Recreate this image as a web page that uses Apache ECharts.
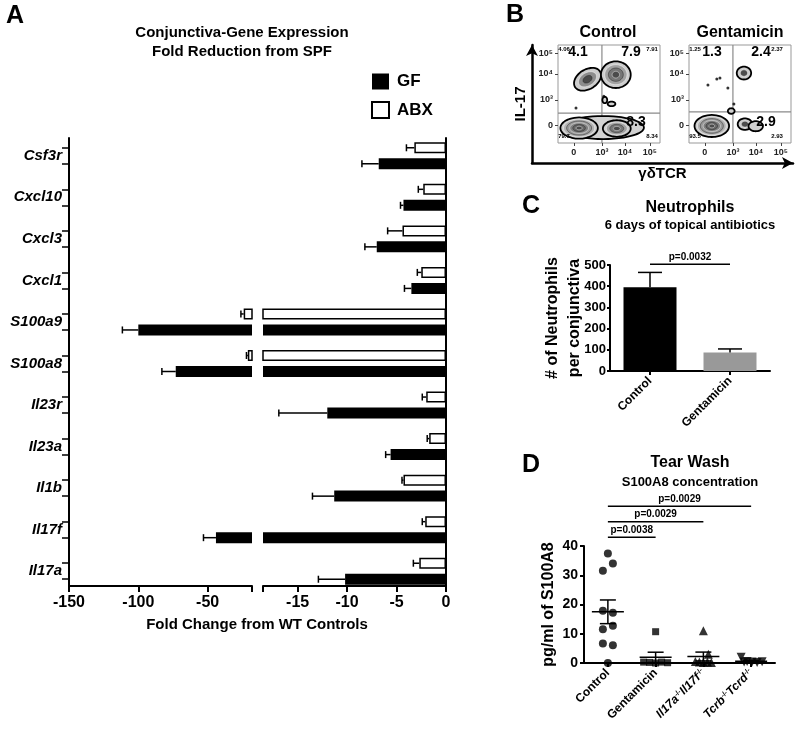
<!DOCTYPE html>
<html><head><meta charset="utf-8">
<script src="https://cdn.jsdelivr.net/npm/echarts@6/dist/echarts.min.js"></script>
<style>html,body{margin:0;padding:0;background:#fff}#c{width:800px;height:733px}</style>
</head><body><div id="c"></div>
<script>
// ---------- Panel A: conjunctiva gene expression (fold change) ----------
const genes = ['Csf3r','Cxcl10','Cxcl3','Cxcl1','S100a9','S100a8','Il23r','Il23a','Il1b','Il17f','Il17a'];
const gfFold  = [-6.8,-4.3,-7.0,-3.5,-100,-73,-12.0,-5.6,-11.3,-44,-10.2];
const gfSem   = [1.7,0.3,1.2,0.7,11.5,10,4.9,0.5,2.2,9,2.7];
const abxFold = [-3.2,-2.3,-4.4,-2.5,-24,-21,-2.0,-1.7,-4.3,-2.1,-2.7];
const abxSem  = [0.8,0.5,1.5,0.4,2,1,0.4,0.2,0.15,0.3,0.6];
const foldLabelsLeft  = [-150,-100,-50];
const foldLabelsRight = [-15,-10,-5,0];
const breakLeftEnd = -18, breakRightStart = -18.5;

// ---------- Panel B: flow cytometry (display units on biexponential scale) ----------
const flowXTicks = [1.83, 3, 3.96, 5.0];
const flowYTicks = [1.91, 3, 4.13, 5.04];
const flowTickLabels = ['0','10³','10⁴','10⁵'];
const gateControl = [[3.0, 2.43]];
const gateGent = [[3.0, 2.48]];
// populations: [cx, cy, rx, ry, rotationDeg, contourLevels]
const controlPops = [
  [3.05,1.80,1.70,0.50,0,1],
  [2.05,1.78,0.78,0.46,0,6],
  [3.62,1.76,0.58,0.36,0,4],
  [2.40,3.90,0.62,0.42,35,3],
  [3.58,4.10,0.62,0.58,0,4],
  [3.12,3.00,0.10,0.14,0,1],
  [3.40,2.83,0.16,0.10,0,1]
];
const controlEvents = [[1.92,2.65],[3.08,3.16]];
const gentPops = [
  [2.12,1.87,0.72,0.48,0,6],
  [3.50,1.95,0.30,0.25,0,2],
  [3.95,1.86,0.30,0.22,0,1],
  [3.46,4.17,0.30,0.28,0,2],
  [2.93,2.52,0.14,0.12,0,1]
];
const gentEvents = [[1.96,3.65],[2.33,3.91],[2.46,3.96],[2.79,3.52],[3.04,2.83]];
const controlPctBig = ['4.1','7.9','8.3'];
const controlPctSmall = ['4.06','7.91','79.7','8.34'];
const gentPctBig = ['1.3','2.4','2.9'];
const gentPctSmall = ['1.25','2.37','93.5','2.93'];

// ---------- Panel C: neutrophils ----------
const neutGroups = ['Control','Gentamicin'];
const neutMean = [395, 87];
const neutSem = [70, 17];
const neutP = ['p=0.0032'];

// ---------- Panel D: tear wash S100A8 ----------
const tearGroups = ['Control','Gentamicin','Il17a-/-Il17f-/-','Tcrb-/-Tcrd-/-'];
const tearControl = [37.4,34.0,31.5,17.9,17.2,12.7,11.5,6.7,6.1,0];
const tearGent = [10.7,0.3,0.2,0,0.3,0.1];
const tearIl17 = [11.0,3.0,0.5,0.3,0.2,0.3,0.2];
const tearTcr = [2.0,0.5,0.3,0.2,0.4,0.3];
const tearP = ['p=0.0038','p=0.0029','p=0.0029'];
const tearPTarget = [1,2,3];

// jitter (pixel offsets, style only)
const jitControl = [0,5,-5,-5,5,5,-5,-5,5,0];
const jitGent = [0,-12,-6,0,6,12];
const jitIl17 = [0,5,-8,-4,0,4,8];
const jitTcr = [-10,-4,1,6,11,-7];

const FF = '"Liberation Sans", Arial, Helvetica, sans-serif';
const chart = echarts.init(document.getElementById('c'));

// layout constants
const A_TOP = 135, A_H = 457, A_AX_TOP = 138, A_AX_H = 448;
const band = A_H / genes.length;
const barOff = 8;
const yMinAx = (A_AX_TOP - A_TOP) / band - 0.5;
const yMaxAx = yMinAx + A_AX_H / band;
const yTickVals = [];
genes.forEach((g, i) => { yTickVals.push(i - barOff / band, i + barOff / band); });

const errA = [];
genes.forEach((g, i) => { errA.push([i, abxFold[i], abxSem[i], -1]); errA.push([i, gfFold[i], gfSem[i], 1]); });

function hErr(params, api) {
  const c = api.value(0), m = api.value(1), s = api.value(2), side = api.value(3);
  const p0 = api.coord([m, c]), p1 = api.coord([m - s, c]);
  const y = p0[1] + side * barOff;
  const st = {stroke:'#000', lineWidth:1.5};
  return {type:'group', children:[
    {type:'line', shape:{x1:p0[0], y1:y, x2:p1[0], y2:y}, style:st},
    {type:'line', shape:{x1:p1[0], y1:y-3.5, x2:p1[0], y2:y+3.5}, style:st}
  ]};
}
function popRender(params, api) {
  const cx = api.value(0), cy = api.value(1), rx = api.value(2), ry = api.value(3);
  const rot = api.value(4) * Math.PI / 180, lv = api.value(5);
  const children = [];
  for (let k = 0; k < lv; k++) {
    const s = 1 - k / lv;
    const pts = [];
    for (let t = 0; t < 48; t++) {
      const a = t / 48 * Math.PI * 2;
      const ex = rx * s * Math.cos(a), ey = ry * s * Math.sin(a);
      pts.push(api.coord([cx + ex * Math.cos(rot) - ey * Math.sin(rot), cy + ex * Math.sin(rot) + ey * Math.cos(rot)]));
    }
    const g = lv === 1 ? 210 : Math.round(205 - 130 * (k / (lv - 1)));
    children.push({type:'polygon', shape:{points:pts, smooth:0.3},
      style:{fill:'rgb(' + g + ',' + g + ',' + g + ')',
             stroke: k === 0 ? '#000' : (k % 2 ? 'rgba(255,255,255,0.6)' : 'rgba(30,30,30,0.6)'),
             lineWidth: k === 0 ? 1.8 : 0.8}});
  }
  return {type:'group', children};
}
function gateRender(params, api) {
  const p = api.coord([api.value(0), api.value(1)]);
  const cs = params.coordSys;
  const st = {stroke:'#8a8a8a', lineWidth:1.2};
  return {type:'group', children:[
    {type:'line', shape:{x1:p[0], y1:cs.y, x2:p[0], y2:cs.y + cs.height}, style:st},
    {type:'line', shape:{x1:cs.x, y1:p[1], x2:cs.x + cs.width, y2:p[1]}, style:st}
  ]};
}
function vErr(params, api) {
  const c = api.value(0), m = api.value(1), s = api.value(2);
  const p0 = api.coord([c, m]), p1 = api.coord([c, m + s]);
  const st = {stroke:'#000', lineWidth:1.5};
  return {type:'group', children:[
    {type:'line', shape:{x1:p0[0], y1:p0[1], x2:p1[0], y2:p1[1]}, style:st},
    {type:'line', shape:{x1:p1[0]-12, y1:p1[1], x2:p1[0]+12, y2:p1[1]}, style:st}
  ]};
}
function makeBracket(labels) {
  return function(params, api) {
    const a = api.coord([api.value(0), api.value(2)]), b = api.coord([api.value(1), api.value(2)]);
    return {type:'group', children:[
      {type:'line', shape:{x1:a[0], y1:a[1], x2:b[0], y2:b[1]}, style:{stroke:'#000', lineWidth:1.5}},
      {type:'text', x:(a[0]+b[0])/2, y:a[1]-2, style:{text:labels[params.dataIndex], font:'bold 10px ' + FF, fill:'#000', align:'center', verticalAlign:'bottom', textAlign:'center', textVerticalAlign:'bottom'}}
    ]};
  };
}
function mean(a) { return a.reduce((s, v) => s + v, 0) / a.length; }
function sem(a) { const m = mean(a); return Math.sqrt(a.reduce((s, v) => s + (v - m) * (v - m), 0) / (a.length - 1)) / Math.sqrt(a.length); }
function meanSem(params, api) {
  const c = api.value(0), m = api.value(1), s = api.value(2);
  const pm = api.coord([c, m]), pu = api.coord([c, m + s]), pl = api.coord([c, m - s]);
  const st = {stroke:'#000', lineWidth:1.5};
  return {type:'group', children:[
    {type:'line', shape:{x1:pm[0]-16, y1:pm[1], x2:pm[0]+16, y2:pm[1]}, style:st},
    {type:'line', shape:{x1:pu[0], y1:pu[1], x2:pl[0], y2:pl[1]}, style:st},
    {type:'line', shape:{x1:pu[0]-8, y1:pu[1], x2:pu[0]+8, y2:pu[1]}, style:st},
    {type:'line', shape:{x1:pl[0]-8, y1:pl[1], x2:pl[0]+8, y2:pl[1]}, style:st}
  ]};
}

const line2 = {show:true, onZero:false, lineStyle:{color:'#000', width:2}};
const noAx = {show:false};
const tearSets = [tearControl, tearGent, tearIl17, tearTcr];
const tearJit = [jitControl, jitGent, jitIl17, jitTcr];
const tearSym = [['circle',8,0],['rect',7,0],['triangle',9,0],['triangle',9,180]];

function flowX(grid) {
  return {gridIndex:grid, type:'value', min:1.17, max:5.42, axisLine:{show:false, onZero:false}, splitLine:{show:false},
    axisTick:{show:true, customValues:flowXTicks, length:3, lineStyle:{color:'#444'}},
    axisLabel:{customValues:flowXTicks, fontSize:9, fontWeight:'bold', color:'#222', margin:5,
      formatter:(v) => flowTickLabels[flowXTicks.indexOf(v)]}};
}
function flowY(grid) {
  return {gridIndex:grid, type:'value', min:1.13, max:5.39, axisLine:{show:false, onZero:false}, splitLine:{show:false},
    axisTick:{show:true, customValues:flowYTicks, length:3, lineStyle:{color:'#444'}},
    axisLabel:{customValues:flowYTicks, fontSize:9, fontWeight:'bold', color:'#222', margin:5,
      formatter:(v) => flowTickLabels[flowYTicks.indexOf(v)]}};
}

const texts = [];
function txt(t, x, y, size, extra) {
  texts.push(Object.assign({type:'text', x:x, y:y, z:100, silent:true,
    style:{text:t, font:'bold ' + size + 'px ' + FF, fill:'#000', align:'center', verticalAlign:'middle', textAlign:'center', textVerticalAlign:'middle'}}, extra || {}));
}
txt('A', 15, 16, 25);
txt('Conjunctiva-Gene Expression', 242, 33, 15);
txt('Fold Reduction from SPF', 242, 52, 15);
txt('Fold Change from WT Controls', 257, 625, 15);
txt('B', 515, 15, 25);
txt('Control', 608, 33, 16);
txt('Gentamicin', 740, 33, 16);
[[578,52],[631,52],[636,122]].forEach((p, i) => txt(controlPctBig[i], p[0], p[1], 14));
[[712,52],[761,52],[766,122]].forEach((p, i) => txt(gentPctBig[i], p[0], p[1], 14));
[[564,49],[652,49],[564,136],[652,136]].forEach((p, i) => txt(controlPctSmall[i], p[0], p[1], 6));
[[695,49],[777,49],[695,136],[777,136]].forEach((p, i) => txt(gentPctSmall[i], p[0], p[1], 6));
txt('C', 531, 206, 25);
txt('Neutrophils', 690, 208, 16);
txt('6 days of topical antibiotics', 690, 225, 13);
txt('D', 531, 465, 25);
txt('Tear Wash', 690, 463, 16);
txt('S100A8 concentration', 690, 482, 13);

const tearRich = {
  'Control':'{b|Control}', 'Gentamicin':'{b|Gentamicin}',
  'Il17a-/-Il17f-/-':'{i|Il17a}{s|-/-}{i|Il17f}{s|-/-}',
  'Tcrb-/-Tcrd-/-':'{i|Tcrb}{s|-/-}{i|Tcrd}{s|-/-}'
};

const series = [];
[0, 1].forEach(g => {
  series.push({type:'bar', name:'ABX', xAxisIndex:g, yAxisIndex:g, data:abxFold, barWidth:11, barGap:'45%',
    itemStyle:{color:'#fff', borderColor:'#000', borderWidth:1.5}, clip:true, z:2, silent:true});
  series.push({type:'bar', name:'GF', xAxisIndex:g, yAxisIndex:g, data:gfFold, barWidth:11, barGap:'45%',
    itemStyle:{color:'#000'}, clip:true, z:2, silent:true});
  series.push({type:'custom', xAxisIndex:g, yAxisIndex:g, data:errA, encode:{x:1, y:0}, renderItem:hErr, clip:true, z:3, silent:true});
});
[[5, controlPops, controlEvents, gateControl], [6, gentPops, gentEvents, gateGent]].forEach(([g, pops, ev, gate]) => {
  series.push({type:'custom', xAxisIndex:g, yAxisIndex:g, data:gate, encode:{x:0, y:1}, renderItem:gateRender, z:1, silent:true});
  series.push({type:'custom', xAxisIndex:g, yAxisIndex:g, data:pops, encode:{x:0, y:1}, renderItem:popRender, clip:true, z:2, silent:true});
  series.push({type:'scatter', xAxisIndex:g, yAxisIndex:g, data:ev, symbolSize:3, itemStyle:{color:'#000'}, z:3, silent:true});
});
series.push({type:'bar', xAxisIndex:7, yAxisIndex:7, barWidth:53, silent:true,
  data:neutMean.map((v, i) => ({value:v, itemStyle:{color: i === 0 ? '#000' : '#999'}}))});
series.push({type:'custom', xAxisIndex:7, yAxisIndex:7, data:neutMean.map((v, i) => [i, v, neutSem[i]]), encode:{x:0, y:1}, renderItem:vErr, z:3, silent:true});
series.push({type:'custom', xAxisIndex:7, yAxisIndex:7, data:[[0, 1, 503]], encode:{x:0, y:2}, renderItem:makeBracket(neutP), z:3, silent:true});
tearSets.forEach((arr, gi) => {
  series.push({type:'scatter', xAxisIndex:8, yAxisIndex:8, clip:false, silent:true, z:3,
    symbol:tearSym[gi][0], symbolSize:tearSym[gi][1], symbolRotate:tearSym[gi][2], itemStyle:{color:'#000'},
    data:arr.map((v, k) => ({value:[gi, v], symbolOffset:[tearJit[gi][k] || 0, 0]}))});
});
series.push({type:'custom', xAxisIndex:8, yAxisIndex:8, data:tearSets.map((a, i) => [i, mean(a), sem(a)]), encode:{x:0, y:1}, renderItem:meanSem, z:4, silent:true});
series.push({type:'custom', xAxisIndex:8, yAxisIndex:8, data:tearP.map((p, k) => [0, tearPTarget[k], 43 + k * 5.3]), encode:{x:0, y:2}, renderItem:makeBracket(tearP), z:4, silent:true});

const option = {
  animation:false,
  backgroundColor:'#fff',
  textStyle:{fontFamily:FF, color:'#000'},
  grid:[
    {left:69, top:A_TOP, width:183, height:A_H},
    {left:263, top:A_TOP, width:183, height:A_H},
    {left:69, top:A_AX_TOP, width:183, height:A_AX_H},
    {left:263, top:A_AX_TOP, width:183, height:A_AX_H},
    {left:532, top:45, width:261, height:118},
    {left:558, top:45, width:102, height:98, show:true, borderColor:'#999', borderWidth:1},
    {left:689, top:45, width:102, height:98, show:true, borderColor:'#999', borderWidth:1},
    {left:610, top:265, width:160, height:106},
    {left:584, top:546, width:191, height:117}
  ].map(g => Object.assign({outerBoundsMode:'none', containLabel:false}, g)),
  xAxis:[
    {gridIndex:0, type:'value', min:-150, max:breakLeftEnd, show:false},
    {gridIndex:1, type:'value', min:breakRightStart, max:0, show:false},
    {gridIndex:2, type:'value', min:-150, max:breakLeftEnd, axisLine:line2, splitLine:noAx,
      axisTick:{show:true, customValues:foldLabelsLeft.concat([breakLeftEnd]), length:6, lineStyle:{color:'#000', width:2}},
      axisLabel:{customValues:foldLabelsLeft, fontSize:16, fontWeight:'bold', color:'#000', margin:9}},
    {gridIndex:3, type:'value', min:breakRightStart, max:0, axisLine:line2, splitLine:noAx,
      axisTick:{show:true, customValues:[breakRightStart].concat(foldLabelsRight), length:6, lineStyle:{color:'#000', width:2}},
      axisLabel:{customValues:foldLabelsRight, fontSize:16, fontWeight:'bold', color:'#000', margin:9}},
    {gridIndex:4, type:'value', min:0, max:1, splitLine:noAx, axisTick:noAx, axisLabel:noAx,
      axisLine:{show:true, onZero:false, symbol:['none','arrow'], symbolSize:[9,11], lineStyle:{color:'#000', width:2.5}},
      name:'γδTCR', nameLocation:'middle', nameGap:3, nameMoveOverlap:false, nameTextStyle:{fontSize:15, fontWeight:'bold', color:'#000', verticalAlign:'top'}},
    flowX(5), flowX(6),
    {gridIndex:7, type:'category', data:neutGroups, axisLine:line2,
      axisTick:{show:true, alignWithLabel:true, length:4, lineStyle:{width:2, color:'#000'}},
      axisLabel:{rotate:45, interval:0, fontSize:12, fontWeight:'bold', color:'#000', margin:8}},
    {gridIndex:8, type:'category', data:tearGroups, axisLine:line2,
      axisTick:{show:true, alignWithLabel:true, length:4, lineStyle:{width:2, color:'#000'}},
      axisLabel:{rotate:45, interval:0, margin:8, color:'#000', formatter:(v) => tearRich[v],
        rich:{b:{fontSize:12, fontWeight:'bold', fontFamily:FF}, i:{fontSize:12, fontWeight:'bold', fontStyle:'italic', fontFamily:FF},
              s:{fontSize:7, fontWeight:'bold', verticalAlign:'top', fontFamily:FF}}}}
  ],
  yAxis:[
    {gridIndex:0, type:'category', inverse:true, data:genes, axisLine:{show:false}, axisTick:noAx,
      axisLabel:{fontSize:15, fontWeight:'bold', fontStyle:'italic', color:'#000', margin:7}},
    {gridIndex:1, type:'category', inverse:true, data:genes, show:false},
    {gridIndex:2, type:'value', inverse:true, min:yMinAx, max:yMaxAx, axisLine:line2, splitLine:noAx, axisLabel:noAx,
      axisTick:{show:true, customValues:yTickVals, length:7, lineStyle:{color:'#000', width:1.5}}},
    {gridIndex:3, type:'value', inverse:true, min:yMinAx, max:yMaxAx, position:'right', axisLine:line2, splitLine:noAx, axisLabel:noAx, axisTick:noAx},
    {gridIndex:4, type:'value', min:0, max:1, splitLine:noAx, axisTick:noAx, axisLabel:noAx,
      axisLine:{show:true, onZero:false, symbol:['none','arrow'], symbolSize:[9,11], lineStyle:{color:'#000', width:2.5}},
      name:'IL-17', nameLocation:'middle', nameGap:4, nameMoveOverlap:false, nameTextStyle:{fontSize:15, fontWeight:'bold', color:'#000'}},
    flowY(5), flowY(6),
    {gridIndex:7, type:'value', min:0, max:500, interval:100, axisLine:line2, splitLine:noAx,
      axisTick:{show:true, length:3, lineStyle:{width:2, color:'#000'}},
      axisLabel:{fontSize:13, fontWeight:'bold', color:'#000', margin:4},
      name:'# of Neutrophils\nper conjunctiva', nameLocation:'middle', nameGap:24, nameMoveOverlap:false,
      nameTextStyle:{fontSize:16, fontWeight:'bold', color:'#000', lineHeight:22}},
    {gridIndex:8, type:'value', min:0, max:40, interval:10, axisLine:line2, splitLine:noAx,
      axisTick:{show:true, length:4, lineStyle:{width:2, color:'#000'}},
      axisLabel:{fontSize:14, fontWeight:'bold', color:'#000', margin:6},
      name:'pg/ml of S100A8', nameLocation:'middle', nameGap:27, nameMoveOverlap:false,
      nameTextStyle:{fontSize:16, fontWeight:'bold', color:'#000'}}
  ],
  legend:{left:371, top:73, orient:'vertical', itemWidth:17, itemHeight:16, itemGap:11, icon:'rect', padding:0,
    selectedMode:false, data:['GF','ABX'], textStyle:{fontSize:17, fontWeight:'bold', color:'#000', padding:[0,0,0,3]}},
  series:series,
  graphic:{elements:texts}
};
chart.setOption(option);
</script>
</body></html>
